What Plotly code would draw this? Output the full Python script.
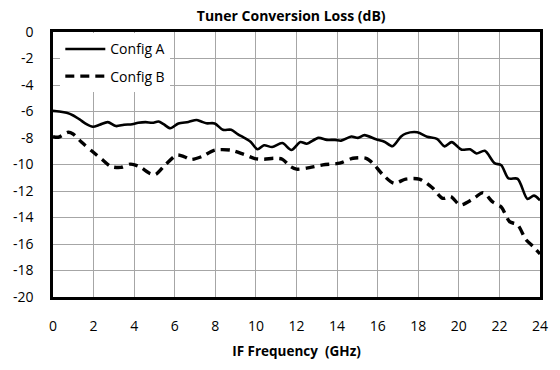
import plotly.graph_objects as go

# IF frequency (GHz) and conversion loss (dB) for each configuration
freq_a = [0.0, 0.3, 0.67, 1.0, 1.31, 1.65, 1.96, 2.3, 2.7, 3.1, 3.5, 3.9, 4.2, 4.56,
          4.9, 5.2, 5.45, 5.78, 6.18, 6.67, 7.07, 7.3, 7.56, 7.97, 8.37, 8.78, 9.1,
          9.5, 9.75, 10.08, 10.4, 10.8, 11.3, 11.75, 12.19, 12.5, 13.08, 13.5, 13.9,
          14.2, 14.7, 15.03, 15.35, 15.92, 16.33, 16.73, 17.14, 17.38, 17.95, 18.44,
          18.92, 19.3, 19.65, 20.14, 20.55, 20.87, 21.28, 21.76, 22.09, 22.45, 22.9,
          23.38, 23.7, 24.0]
loss_a = [-5.95, -6.0, -6.1, -6.3, -6.6, -6.95, -7.15, -7.0, -6.8, -7.1, -7.0, -6.96,
          -6.85, -6.8, -6.85, -6.76, -6.96, -7.26, -6.9, -6.79, -6.64, -6.75, -6.89,
          -6.9, -7.38, -7.38, -7.7, -8.05, -8.3, -8.85, -8.55, -8.68, -8.38, -8.9,
          -8.3, -8.43, -7.99, -8.14, -8.14, -8.2, -7.89, -7.99, -7.78, -8.1, -8.28,
          -8.62, -7.9, -7.67, -7.57, -7.9, -8.06, -8.63, -8.31, -8.88, -8.85, -9.17,
          -8.97, -9.9, -10.05, -11.05, -11.08, -12.6, -12.35, -12.7]

freq_b = [0.0, 0.26, 0.75, 0.99, 1.4, 1.96, 2.45, 2.86, 3.34, 3.83, 4.24, 4.8, 5.05,
          5.53, 6.1, 6.45, 6.8, 7.32, 7.97, 8.78, 9.4, 9.95, 10.4, 10.9, 11.3, 11.7,
          12.0, 12.5, 13.3, 14.13, 14.78, 15.43, 15.76, 16.25, 16.81, 17.38, 18.05,
          18.68, 19.2, 19.6, 20.06, 20.7, 21.2, 21.65, 22.09, 22.5, 22.9, 23.3, 23.63,
          24.0]
loss_b = [-7.9, -7.94, -7.57, -7.7, -8.31, -9.04, -9.66, -10.15, -10.22, -9.97, -10.15,
          -10.69, -10.76, -10.03, -9.29, -9.4, -9.62, -9.41, -8.92, -8.92, -9.23, -9.55,
          -9.6, -9.53, -9.6, -10.15, -10.35, -10.27, -10.03, -9.9, -9.53, -9.53, -9.9,
          -10.76, -11.42, -11.1, -11.1, -11.74, -12.55, -12.42, -13.05, -12.6, -12.12,
          -12.8, -13.21, -14.31, -14.56, -15.66, -16.15, -16.75]

x_ticks = list(range(0, 25, 2))
y_ticks = list(range(-20, 1, 2))

FONT = "Open Sans"

fig = go.Figure()
fig.add_trace(go.Scatter(
    x=freq_a, y=loss_a, name="Config A", mode="lines", legendgroup="a",
    line=dict(color="black", width=2.6, shape="spline", smoothing=0.8),
))
fig.add_trace(go.Scatter(
    x=freq_b, y=loss_b, name="Config B", mode="lines", legendgroup="b",
    line=dict(color="black", width=3.4, dash="9px,6px", shape="spline", smoothing=0.8),
))

axis_common = dict(
    showline=True, linecolor="black", linewidth=2.5, mirror=True,
    showgrid=True, gridcolor="#a6a6a6", gridwidth=1, zeroline=False,
    ticks="", tickfont=dict(family=FONT, size=14, color="black"),
)

fig.update_layout(
    width=560, height=370,
    margin=dict(l=53, r=14, t=32, b=66),
    paper_bgcolor="white", plot_bgcolor="white",
    title=dict(
        text="<b>Tuner Conversion Loss (dB)</b>",
        x=0.52, xanchor="center", y=0.957, yanchor="middle",
        font=dict(family=FONT, size=14, color="black"),
    ),
    xaxis=dict(
        range=[0, 24], tickvals=x_ticks, ticktext=[str(v) for v in x_ticks],
        ticklabelstandoff=14,
        title=dict(text="<b>IF Frequency  (GHz)</b>", standoff=14,
                   font=dict(family=FONT, size=13.5, color="black")),
        **axis_common,
    ),
    yaxis=dict(
        range=[-20, 0], tickvals=y_ticks, ticktext=[str(v) for v in y_ticks],
        ticklabelstandoff=14,
        **axis_common,
    ),
    showlegend=True,
    legend=dict(
        x=0.015, y=0.995, xanchor="left", yanchor="top",
        bgcolor="white", borderwidth=0, traceorder="grouped", tracegroupgap=6,
        font=dict(family=FONT, size=14, color="black"),
        itemwidth=40,
    ),
)

fig.write_html("out.html")
